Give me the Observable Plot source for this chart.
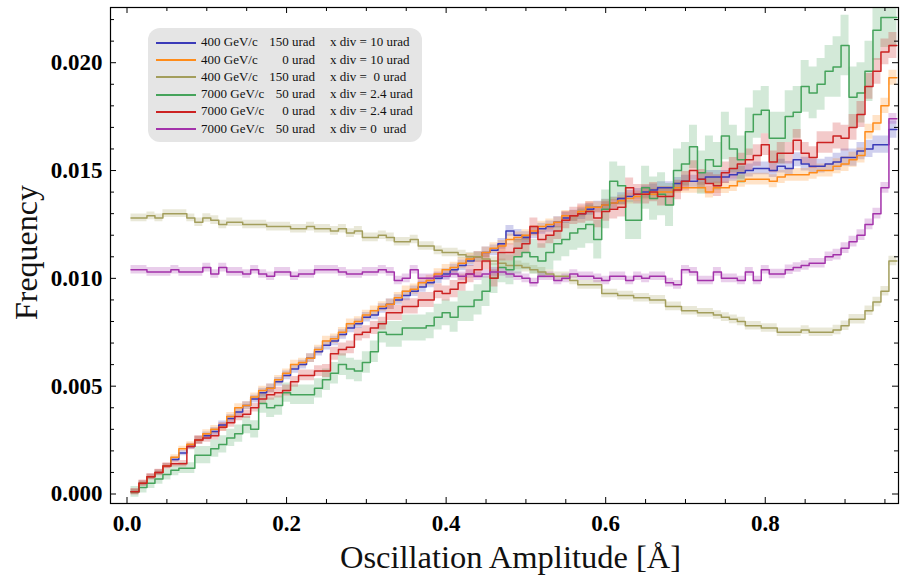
<!DOCTYPE html>
<html><head><meta charset="utf-8">
<script src="https://cdn.jsdelivr.net/npm/d3@7"></script>
<script src="https://cdn.jsdelivr.net/npm/@observablehq/plot@0.6"></script>
<style>
body{margin:0;background:#fff;}
#wrap{position:relative;width:905px;height:585px;}
#legend{position:absolute;left:148px;top:28px;width:274px;height:114px;background:#e5e5e5;border-radius:12px;font-family:"Liberation Serif",serif;font-size:13px;color:#111;}
#legend .sw{position:absolute;left:8px;width:40px;height:2px;}
#legend .t{position:absolute;white-space:pre;line-height:17px;}
</style></head>
<body><div id="wrap"><div id="chart"></div><div id="legend"></div></div>
<script>
// ---- data ----
const seriesNames = ["400 GeV/c 150 urad xdiv 10","400 GeV/c 0 urad xdiv 10","400 GeV/c 150 urad xdiv 0","7000 GeV/c 50 urad xdiv 2.4","7000 GeV/c 0 urad xdiv 2.4","7000 GeV/c 50 urad xdiv 0"];
const legendEnergy = ["400 GeV/c","400 GeV/c","400 GeV/c","7000 GeV/c","7000 GeV/c","7000 GeV/c"];
const legendAngle = ["150 urad","0 urad","150 urad","50 urad","0 urad","50 urad"];
const legendDiv = ["x div = 10 urad","x div = 10 urad","x div =  0 urad","x div = 2.4 urad","x div = 2.4 urad","x div = 0  urad"];
const seriesColors = ["#3b3bb8","#ff8c1a","#a39e5c","#45a35b","#cc2222","#a332aa"];
const binStart = 0.005, binWidth = 0.01;

const blue = [0.0001,0.0005,0.0008,0.0010,0.0013,0.0016,0.0019,0.0022,0.0025,0.0027,
0.0029,0.0032,0.0035,0.0038,0.0041,0.0044,0.0047,0.0049,0.0052,0.0055,
0.0058,0.0060,0.0063,0.0066,0.0069,0.0071,0.0074,0.0077,0.0079,0.0082,
0.0083,0.0086,0.0088,0.0090,0.0092,0.0094,0.0096,0.0098,0.0100,0.0102,
0.0104,0.0106,0.0108,0.0110,0.0112,0.0113,0.0116,0.0122,0.0120,0.0119,
0.0121,0.0123,0.0124,0.0126,0.0128,0.0129,0.0130,0.0132,0.0133,0.0134,
0.0135,0.0137,0.0138,0.0139,0.0140,0.0141,0.0142,0.0142,0.0144,0.0145,
0.0145,0.0146,0.0147,0.0147,0.0147,0.0148,0.0149,0.0150,0.0151,0.0151,
0.0150,0.0152,0.0151,0.0155,0.0153,0.0152,0.0152,0.0153,0.0154,0.0156,
0.0156,0.0159,0.0160,0.0162,0.0162,0.0169];
const orange = [0.0001,0.0005,0.0008,0.0010,0.0013,0.0017,0.0021,0.0023,0.0025,0.0028,
0.0030,0.0031,0.0036,0.0040,0.0041,0.0045,0.0048,0.0049,0.0053,0.0056,
0.0060,0.0061,0.0063,0.0067,0.0071,0.0072,0.0075,0.0079,0.0080,0.0083,
0.0085,0.0087,0.0088,0.0091,0.0094,0.0095,0.0098,0.0099,0.0102,0.0104,
0.0105,0.0107,0.0109,0.0110,0.0112,0.0114,0.0115,0.0118,0.0119,0.0120,
0.0122,0.0124,0.0125,0.0126,0.0129,0.0129,0.0131,0.0133,0.0133,0.0134,
0.0135,0.0136,0.0137,0.0138,0.0139,0.0139,0.0140,0.0140,0.0142,0.0142,
0.0142,0.0142,0.0140,0.0142,0.0142,0.0143,0.0145,0.0146,0.0146,0.0146,
0.0145,0.0147,0.0148,0.0148,0.0148,0.0149,0.0150,0.0150,0.0152,0.0153,
0.0155,0.0157,0.0168,0.0172,0.0180,0.0193];
const olive = [0.0128,0.0128,0.0129,0.0128,0.0130,0.0130,0.0130,0.0128,0.0126,0.0128,
0.0127,0.0125,0.0126,0.0126,0.0125,0.0125,0.0125,0.0124,0.0124,0.0124,
0.0123,0.0123,0.0124,0.0123,0.0123,0.0122,0.0123,0.0121,0.0122,0.0119,
0.0119,0.0120,0.0119,0.0117,0.0117,0.0118,0.0115,0.0115,0.0113,0.0112,
0.0112,0.0111,0.0110,0.0110,0.0109,0.0108,0.0107,0.0106,0.0106,0.0105,
0.0104,0.0103,0.0102,0.0101,0.0101,0.0099,0.0097,0.0097,0.0097,0.0093,
0.0093,0.0092,0.0092,0.0091,0.0091,0.0090,0.0090,0.0087,0.0087,0.0085,
0.0085,0.0084,0.0084,0.0083,0.0082,0.0081,0.0080,0.0078,0.0078,0.0077,
0.0077,0.0075,0.0075,0.0075,0.0076,0.0075,0.0075,0.0075,0.0076,0.0078,
0.0081,0.0081,0.0085,0.0089,0.0094,0.0108];
const green = [0.0001,0.0003,0.0005,0.0007,0.0009,0.0011,0.0012,0.0012,0.0018,0.0018,
0.0021,0.0023,0.0026,0.0028,0.0032,0.0030,0.0042,0.0040,0.0041,0.0047,
0.0046,0.0046,0.0046,0.0049,0.0053,0.0056,0.0060,0.0058,0.0057,0.0061,
0.0066,0.0075,0.0074,0.0074,0.0077,0.0077,0.0077,0.0078,0.0082,0.0084,
0.0082,0.0087,0.0087,0.0090,0.0094,0.0100,0.0105,0.0104,0.0110,0.0112,
0.0110,0.0108,0.0112,0.0116,0.0118,0.0121,0.0123,0.0125,0.0118,0.0132,
0.0145,0.0143,0.0127,0.0127,0.0142,0.0137,0.0139,0.0134,0.0150,0.0153,
0.0161,0.0149,0.0155,0.0152,0.0166,0.0160,0.0155,0.0168,0.0176,0.0178,
0.0165,0.0165,0.0175,0.0177,0.0189,0.0186,0.0190,0.0196,0.0198,0.0208,
0.0184,0.0186,0.0196,0.0215,0.0221,0.0221];
const red = [0.0001,0.0005,0.0008,0.0010,0.0013,0.0014,0.0014,0.0022,0.0025,0.0026,
0.0027,0.0031,0.0033,0.0036,0.0037,0.0040,0.0044,0.0046,0.0047,0.0048,
0.0052,0.0055,0.0055,0.0057,0.0057,0.0065,0.0067,0.0068,0.0074,0.0075,
0.0077,0.0079,0.0084,0.0084,0.0087,0.0087,0.0090,0.0090,0.0094,0.0093,
0.0095,0.0098,0.0102,0.0104,0.0108,0.0100,0.0112,0.0112,0.0114,0.0116,
0.0124,0.0118,0.0120,0.0122,0.0127,0.0129,0.0130,0.0131,0.0128,0.0131,
0.0132,0.0133,0.0142,0.0139,0.0139,0.0140,0.0138,0.0138,0.0141,0.0145,
0.0150,0.0146,0.0144,0.0143,0.0149,0.0151,0.0153,0.0155,0.0157,0.0162,
0.0154,0.0158,0.0158,0.0164,0.0158,0.0156,0.0163,0.0163,0.0166,0.0165,
0.0170,0.0176,0.0189,0.0196,0.0205,0.0208];
const purple = [0.0104,0.0104,0.0103,0.0103,0.0103,0.0104,0.0103,0.0103,0.0103,0.0105,
0.0102,0.0105,0.0103,0.0103,0.0102,0.0104,0.0102,0.0101,0.0103,0.0103,
0.0101,0.0102,0.0102,0.0104,0.0104,0.0104,0.0103,0.0102,0.0102,0.0103,
0.0103,0.0104,0.0103,0.0099,0.0100,0.0104,0.0100,0.0100,0.0101,0.0101,
0.0102,0.0101,0.0102,0.0101,0.0102,0.0103,0.0103,0.0102,0.0101,0.0100,
0.0098,0.0101,0.0101,0.0099,0.0100,0.0102,0.0101,0.0101,0.0100,0.0099,
0.0101,0.0101,0.0099,0.0101,0.0100,0.0101,0.0101,0.0098,0.0097,0.0104,
0.0103,0.0099,0.0099,0.0103,0.0100,0.0100,0.0099,0.0103,0.0099,0.0104,
0.0102,0.0102,0.0104,0.0105,0.0106,0.0107,0.0107,0.0110,0.0111,0.0114,
0.0117,0.0120,0.0125,0.0130,0.0142,0.0174];

// error half-widths, one value per block of 8 bins
const errBlue   = [0.00012,0.00018,0.0002,0.00022,0.00024,0.00025,0.00026,0.00027,0.00028,0.0003,0.00032,0.0004];
const errOrange = [0.00012,0.00018,0.0002,0.00022,0.00024,0.00025,0.00025,0.00025,0.00025,0.00027,0.0003,0.00035];
const errOlive  = [0.00018,0.0002,0.0002,0.0002,0.0002,0.0002,0.0002,0.0002,0.0002,0.0002,0.0002,0.00022];
const errGreen  = [0.00025,0.0004,0.00045,0.0005,0.0006,0.0007,0.0008,0.0009,0.001,0.0011,0.0012,0.0014];
const errRed    = [0.00015,0.0002,0.00025,0.0003,0.00035,0.0004,0.0004,0.00045,0.00045,0.0005,0.0005,0.0006];
const errPurple = [0.0002,0.0002,0.0002,0.0002,0.0002,0.0002,0.0002,0.0002,0.0002,0.0002,0.00022,0.00025];

const xMajor = [0, 0.2, 0.4, 0.6, 0.8];
const yMajor = [0, 0.005, 0.010, 0.015, 0.020];

// ---- build tables ----
const allVals = [blue, orange, olive, green, red, purple];
const allErr = [errBlue, errOrange, errOlive, errGreen, errRed, errPurple];
const pts = [];
allVals.forEach((vals, s) => {
  vals.forEach((v, i) => {
    const e = allErr[s][Math.floor(i / 8)];
    const x0 = binStart + i * binWidth, x1 = x0 + binWidth;
    pts.push({series: seriesNames[s], x: x0, y: v, lo: v - e, hi: v + e});
    pts.push({series: seriesNames[s], x: x1, y: v, lo: v - e, hi: v + e});
  });
});

const xMinor = d3.range(1, 20).map(k => k * 0.05).filter(v => xMajor.every(m => Math.abs(m - v) > 1e-9));
const yMinor = d3.range(1, 23).map(k => k * 0.001).filter(v => yMajor.every(m => Math.abs(m - v) > 1e-9));

const W = 905, H = 585, mL = 110, mR = 7, mT = 7, mB = 82;
const pH = H - mT - mB, pW = W - mL - mR;
const xDom = [-0.0207, 0.967], yDom = [-0.00044, 0.02256];
const serif = "Liberation Serif, Times New Roman, serif";
const majL = 6, minL = 4;

const chart = Plot.plot({
  width: W, height: H,
  marginLeft: mL, marginRight: mR, marginTop: mT, marginBottom: mB,
  style: {fontFamily: serif, background: "#fff", color: "#000"},
  x: {domain: xDom},
  y: {domain: yDom},
  color: {domain: seriesNames, range: seriesColors},
  marks: [
    Plot.areaY(pts, {x: "x", y1: "lo", y2: "hi", z: "series", fill: "series", fillOpacity: 0.24, clip: true}),
    Plot.line(pts, {x: "x", y: "y", z: "series", stroke: "series", strokeWidth: 1.5, clip: true}),
    Plot.frame({stroke: "#000", strokeWidth: 1.2}),
    // ticks on all four sides, pointing inward
    Plot.ruleX(xMajor, {insetTop: pH - majL, stroke: "#000"}),
    Plot.ruleX(xMinor, {insetTop: pH - minL, stroke: "#000"}),
    Plot.ruleX(xMajor, {insetBottom: pH - majL, stroke: "#000"}),
    Plot.ruleX(xMinor, {insetBottom: pH - minL, stroke: "#000"}),
    Plot.ruleY(yMajor, {insetRight: pW - majL, stroke: "#000"}),
    Plot.ruleY(yMinor, {insetRight: pW - minL, stroke: "#000"}),
    Plot.ruleY(yMajor, {insetLeft: pW - majL, stroke: "#000"}),
    Plot.ruleY(yMinor, {insetLeft: pW - minL, stroke: "#000"}),
    Plot.axisX(xMajor, {tickSize: 0, tickPadding: 11, tickFormat: d3.format(".1f"), fontSize: 23, fontWeight: "bold", label: null}),
    Plot.axisY(yMajor, {tickSize: 0, tickPadding: 8, tickFormat: d3.format(".3f"), fontSize: 23, fontWeight: "bold", label: null}),
    Plot.text(["Oscillation Amplitude [Å]"], {frameAnchor: "bottom", dy: 64, dx: 6, fontSize: 32.5, fill: "#111"}),
    Plot.text(["Frequency"], {frameAnchor: "left", dx: -84, dy: -3, rotate: -90, textAnchor: "middle", fontSize: 32, fill: "#111"})
  ]
});
document.getElementById("chart").appendChild(chart);

// legend (HTML overlay)
const lg = document.getElementById("legend");
seriesNames.forEach((n, i) => {
  const cy = 13.7 + 17.3 * i;
  const sw = document.createElement("div");
  sw.className = "sw"; sw.style.top = Math.round(cy) + "px"; sw.style.background = seriesColors[i];
  lg.appendChild(sw);
  const a = document.createElement("div");
  a.className = "t"; a.style.left = "53px"; a.style.top = (cy - 8.5) + "px"; a.textContent = legendEnergy[i];
  lg.appendChild(a);
  const b = document.createElement("div");
  b.className = "t"; b.style.right = (274 - 167) + "px"; b.style.top = (cy - 8.5) + "px"; b.textContent = legendAngle[i];
  lg.appendChild(b);
  const c = document.createElement("div");
  c.className = "t"; c.style.left = "182px"; c.style.top = (cy - 8.5) + "px"; c.textContent = legendDiv[i];
  lg.appendChild(c);
});
</script>
</body></html>
